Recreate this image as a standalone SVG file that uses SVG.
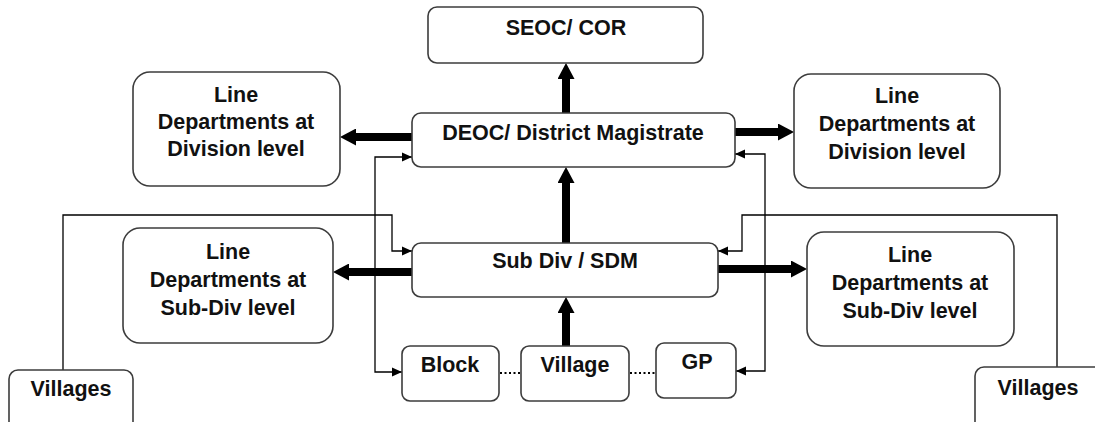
<svg xmlns="http://www.w3.org/2000/svg" width="1095" height="422" viewBox="0 0 1095 422">
<style>
.box{fill:#fff;stroke:#3c3c3c;stroke-width:1.6}
.lbl{font-family:"Liberation Sans",Arial,sans-serif;font-weight:bold;font-size:21.5px;fill:#111;text-anchor:middle}
.thick{stroke:#000;stroke-width:8;fill:none}
.thin{stroke:#000;stroke-width:1.3;fill:none}
.dot{stroke:#000;stroke-width:2;stroke-dasharray:2 2.5;fill:none}
</style>
<defs>
<marker id="big" markerUnits="userSpaceOnUse" markerWidth="16" markerHeight="17" viewBox="0 0 16 17" refX="6" refY="8.5" orient="auto"><path d="M0,0 L16,8.5 L0,17 z" fill="#000"/></marker>
<marker id="small" markerUnits="userSpaceOnUse" markerWidth="10" markerHeight="10" viewBox="0 0 10 10" refX="10" refY="5" orient="auto"><path d="M0,0.5 L10,5 L0,9.5 z" fill="#000"/></marker>
</defs>
<rect width="1095" height="422" fill="#fff"/>
<g id="connectors">
<line class="thick" x1="566" y1="113" x2="566" y2="73" marker-end="url(#big)"/>
<line class="thick" x1="566" y1="243" x2="566" y2="177" marker-end="url(#big)"/>
<line class="thick" x1="566" y1="346" x2="566" y2="307" marker-end="url(#big)"/>
<line class="thick" x1="412" y1="137" x2="350" y2="137" marker-end="url(#big)"/>
<line class="thick" x1="735" y1="132" x2="784" y2="132" marker-end="url(#big)"/>
<line class="thick" x1="412" y1="272" x2="343" y2="272" marker-end="url(#big)"/>
<line class="thick" x1="718" y1="269" x2="797" y2="269" marker-end="url(#big)"/>
<path class="thin" d="M375,265 V157 H412" marker-end="url(#small)"/>
<path class="thin" d="M375,265 V372 H402" marker-end="url(#small)"/>
<path class="thin" d="M765,260 V154 H735" marker-end="url(#small)"/>
<path class="thin" d="M765,260 V371 H736" marker-end="url(#small)"/>
<path class="thin" d="M63,370 V215 H392 V251 H412" marker-end="url(#small)"/>
<path class="thin" d="M1057,367 V215 H742 V251 H718" marker-end="url(#small)"/>
<line class="dot" x1="500" y1="373" x2="521" y2="373"/>
<line class="dot" x1="630" y1="373" x2="656" y2="373"/>
</g>
<g id="seoc"><rect class="box" x="428" y="7" width="275" height="56" rx="9"/><text class="lbl" x="566" y="35">SEOC/ COR</text></g>
<g id="deoc"><rect class="box" x="412" y="113" width="323" height="54" rx="9"/><text class="lbl" x="573" y="140">DEOC/ District Magistrate</text></g>
<g id="div-left"><rect class="box" x="133" y="72" width="207" height="114" rx="17"/><text class="lbl" x="236" y="102">Line</text><text class="lbl" x="236" y="129">Departments at</text><text class="lbl" x="236" y="156">Division level</text></g>
<g id="div-right"><rect class="box" x="794" y="74" width="206" height="114" rx="17"/><text class="lbl" x="897" y="103">Line</text><text class="lbl" x="897" y="131">Departments at</text><text class="lbl" x="897" y="159">Division level</text></g>
<g id="subdiv"><rect class="box" x="412" y="243" width="306" height="54" rx="9"/><text class="lbl" x="565" y="268">Sub Div / SDM</text></g>
<g id="sub-left"><rect class="box" x="123" y="228" width="210" height="115" rx="17"/><text class="lbl" x="228" y="259">Line</text><text class="lbl" x="228" y="287">Departments at</text><text class="lbl" x="228" y="315">Sub-Div level</text></g>
<g id="sub-right"><rect class="box" x="807" y="232" width="207" height="114" rx="17"/><text class="lbl" x="910" y="262">Line</text><text class="lbl" x="910" y="290">Departments at</text><text class="lbl" x="910" y="318">Sub-Div level</text></g>
<g id="block"><rect class="box" x="402" y="346" width="97" height="55" rx="8"/><text class="lbl" x="450" y="372">Block</text></g>
<g id="village"><rect class="box" x="521" y="346" width="108" height="55" rx="8"/><text class="lbl" x="575" y="372">Village</text></g>
<g id="gp"><rect class="box" x="656" y="343" width="80" height="55" rx="8"/><text class="lbl" x="697" y="369">GP</text></g>
<g id="villages-left"><rect class="box" x="9" y="370" width="124" height="70" rx="9"/><text class="lbl" x="71" y="396">Villages</text></g>
<g id="villages-right"><rect class="box" x="975" y="367" width="140" height="70" rx="9"/><text class="lbl" x="1038" y="395">Villages</text></g>
</svg>
